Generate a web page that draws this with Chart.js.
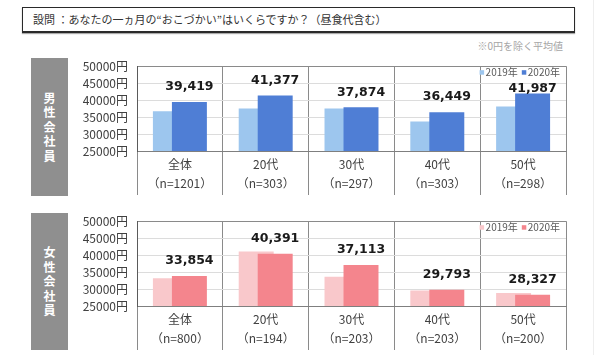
<!DOCTYPE html>
<html><head><meta charset="utf-8">
<script src="https://cdn.jsdelivr.net/npm/chart.js@4.4.1/dist/chart.umd.min.js"></script>
<style>
html,body{margin:0;padding:0;background:#fff;width:600px;height:355px;overflow:hidden;font-family:"Noto Sans CJK JP",sans-serif;}
.abs{position:absolute;}
#title{left:22px;top:7px;width:553px;height:26px;box-sizing:border-box;border:1.5px solid #2a2a2a;border-bottom-width:2px;box-shadow:0 1px 1px #aaa;font-size:11px;color:#333;line-height:22px;padding-left:10px;white-space:nowrap;}
#note{right:37px;top:39px;font-size:10px;color:#a6a6a6;line-height:14px;}
.panel{left:31px;width:37px;background:#8f8f8f;color:#fff;font-weight:bold;font-size:12px;line-height:14.5px;display:flex;align-items:center;justify-content:center;text-align:center;}
#edge{left:593px;top:0;width:1px;height:355px;background:#eeeeee;}
canvas{position:absolute;}
</style></head>
<body>
<div id="title" class="abs">設問 ：あなたの一ヵ月の“おこづかい”はいくらですか？（昼食代含む）</div>
<div id="note" class="abs">※0円を除く平均値</div>
<div id="p1" class="abs panel" style="top:58px;height:138px;"><div>男<br>性<br>会<br>社<br>員</div></div>
<div id="p2" class="abs panel" style="top:213px;height:137px;"><div>女<br>性<br>会<br>社<br>員</div></div>
<div id="edge" class="abs"></div>
<canvas id="c1" width="510" height="150" style="left:70px;top:50px;"></canvas>
<canvas id="c2" width="510" height="150" style="left:70px;top:205px;"></canvas>
<script>
// ---- data ----
const categories = ['全体', '20代', '30代', '40代', '50代'];
const seriesNames = ['2019年', '2020年'];
const menN = [1201, 303, 297, 303, 298];
const womenN = [800, 194, 203, 203, 200];
const men2019 = [36700, 37500, 37500, 33700, 38100];
const men2020 = [39419, 41377, 37874, 36449, 41987];
const women2019 = [33200, 41100, 33600, 29600, 28800];
const women2020 = [33854, 40391, 37113, 29793, 28327];
const yTicks = [25000, 30000, 35000, 40000, 45000, 50000];

const menColors = ['#9dc6ee', '#4f7ed5'];
const womenColors = ['#f9c8cb', '#f4858d'];

const reorder = {
  id: 'reorder',
  beforeDatasetsDraw(chart) {
    const ctx = chart.ctx, ca = chart.chartArea;
    ctx.save();
    ctx.beginPath();
    ctx.rect(ca.left, ca.top, ca.right - ca.left, ca.bottom - ca.top);
    ctx.clip();
    chart.getDatasetMeta(0).controller.draw();
    ctx.restore();
  },
  beforeDatasetDraw(chart, args) {
    if (args.index === 0) return false;
  }
};

const valueLabels = {
  id: 'valueLabels',
  afterDatasetsDraw(chart) {
    const ctx = chart.ctx;
    const meta = chart.getDatasetMeta(1);
    const ca = chart.chartArea;
    ctx.save();
    ctx.font = 'bold 12.5px "DejaVu Sans"';
    ctx.fillStyle = '#1a1a1a';
    ctx.textAlign = 'center';
    ctx.textBaseline = 'middle';
    meta.data.forEach((bar, i) => {
      const v = chart.data.datasets[1].data[i];
      let y = bar.y - 15;
      if (bar.x > ca.right - 90) y = Math.max(y, ca.top + 23);
      ctx.fillText(v.toLocaleString('en-US'), bar.x, y);
    });
    ctx.restore();
  },
  afterDraw(chart) {
    const ctx = chart.ctx;
    const ca = chart.chartArea;
    ctx.save();
    ctx.font = '10px "Noto Sans CJK JP"';
    ctx.textBaseline = 'middle';
    ctx.textAlign = 'right';
    let x = ca.right - 6;
    const y = ca.top + 6.5;
    const ds = chart.data.datasets;
    for (let i = ds.length - 1; i >= 0; i--) {
      const w = ctx.measureText(ds[i].label).width;
      ctx.fillStyle = '#595959';
      ctx.fillText(ds[i].label, x, y);
      ctx.fillStyle = ds[i].backgroundColor;
      ctx.fillRect(x - w - 6, y - 2.5, 4.5, 4.5);
      x = x - w - 10;
    }
    ctx.restore();
  }
};

function makeChart(id, nArr, d19, d20, colors) {
  const labels = categories.map((c, i) => [c, '（n=' + nArr[i] + '）']);
  return new Chart(document.getElementById(id), {
    type: 'bar',
    data: {
      labels: labels,
      datasets: [
        { label: seriesNames[0], data: d19, backgroundColor: colors[0] },
        { label: seriesNames[1], data: d20, backgroundColor: colors[1] }
      ]
    },
    options: {
      responsive: false,
      animation: false,
      categoryPercentage: 0.443,
      barPercentage: 1.84,
      layout: { padding: { left: 0, top: 9, right: 14, bottom: 5 } },
      plugins: { legend: { display: false }, tooltip: { enabled: false } },
      scales: {
        x: {
          afterFit(s) { s.height = 44; },
          grid: { offset: true, color: '#8a8a8a', lineWidth: 1, tickLength: 44, drawTicks: true },
          border: { display: true, color: '#7f7f7f', width: 1 },
          ticks: {
            padding: -40.5, maxRotation: 0, autoSkip: false, color: '#404040',
            font: { family: '"Noto Sans CJK JP"', size: 12, lineHeight: 1.6 }
          }
        },
        y: {
          min: yTicks[0], max: yTicks[yTicks.length - 1],
          afterFit(s) { s.width = 67; },
          afterBuildTicks(s) { s.ticks = yTicks.map(v => ({ value: v })); },
          grid: {
            drawTicks: false,
            color: (c) => (c.tick && (c.tick.value === yTicks[0] || c.tick.value === yTicks[yTicks.length - 1])) ? '#8a8a8a' : '#dcdcdc'
          },
          border: { display: true, color: '#5a5a5a', width: 1 },
          ticks: {
            padding: 9, color: '#404040', autoSkip: false,
            font: { family: '"Noto Sans CJK JP"', size: 12 },
            callback: (v) => v + '円'
          }
        }
      }
    },
    plugins: [reorder, valueLabels]
  });
}

makeChart('c1', menN, men2019, men2020, menColors);
makeChart('c2', womenN, women2019, women2020, womenColors);
</script>
</body></html>
